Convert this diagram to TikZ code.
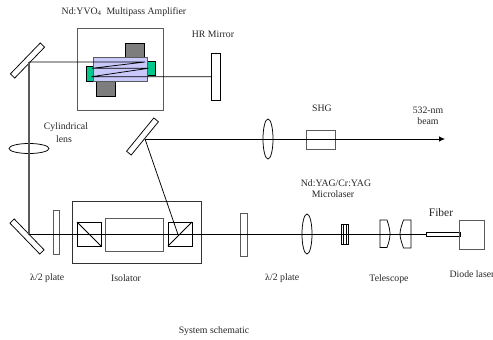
\documentclass[tikz,border=0pt]{standalone}
\usepackage{fontspec}
\setmainfont{Liberation Serif}
\definecolor{lilac}{RGB}{200,200,250}
\definecolor{tealg}{RGB}{0,200,140}
\definecolor{blockgray}{RGB}{125,125,125}
\definecolor{framegray}{RGB}{90,90,90}
\newcommand{\bx}[6]{\node[#1,minimum width=#5pt-#3pt,minimum height=#6pt-#4pt] (#2) at ({(#3+#5)/2},{(#4+#6)/2}) {};}
\newcommand{\lam}{{\fontspec{DejaVu Serif}\fontsize{8.4}{10}\selectfont λ}}
\tikzset{
  part/.style={draw=black,line width=0.75pt,inner sep=0pt,outer sep=0pt,rectangle},
  framed/.style={part,draw=framegray,line width=1pt},
  mirror/.style={part,minimum width=43pt,minimum height=6pt},
  lensv/.style={draw=black,line width=0.75pt,inner sep=0pt,outer sep=0pt,ellipse,minimum width=10pt,minimum height=40pt},
  beam/.style={draw=black,line width=0.75pt},
  graybeam/.style={draw=framegray,line width=1.2pt},
  lbl/.style={font=\fontsize{9.8}{11}\selectfont,text=black!85,inner sep=0pt},
}
\usetikzlibrary{shapes.geometric,arrows.meta}
\begin{document}
\begin{tikzpicture}[x=1pt,y=-1pt]
\useasboundingbox (0,0) rectangle (493,340);
% amplifier
\bx{framed}{ampbox}{77}{28}{163}{110}
\bx{part,fill=blockgray}{blocktop}{125}{43}{144}{57}
\bx{part,fill=blockgray}{blockbot}{96}{81}{115}{96}
\bx{part,fill=tealg}{greenl}{86}{66}{93}{81}
\bx{part,fill=tealg}{greenr}{147}{61}{155}{75}
\bx{part,draw=framegray,fill=lilac}{crystal}{93}{57}{147}{81}
% mirrors
\bx{part}{hr}{211}{53}{220}{100}
\node[mirror,rotate=46] (m1) at (27.5,60.5) {};
\node[mirror,rotate=50.7] (m2) at (142.5,136.5) {};
\node[mirror,rotate=-46] (m3) at (27,236.5) {};
% isolator
\bx{framed,draw=black!80}{iso}{72}{201}{201}{263}
\bx{part}{cubel}{77}{222}{101}{246}
\bx{framed}{faraday}{105.5}{218}{163}{251}
\bx{part}{cuber}{168}{222}{192}{246}
\draw[beam] (cubel.north west) -- (cubel.south east);
\draw[beam] (cuber.south west) -- (cuber.north east);
% plates
\bx{framed,line width=0.75pt}{plate1}{53}{210.5}{59.5}{254}
\bx{framed,line width=0.75pt}{plate2}{240.5}{213}{247}{256}
% lenses
\node[lensv,minimum width=40pt,minimum height=10pt] (cyl) at (29,148.5) {};
\node[lensv] (lens1) at (268,139) {};
\node[lensv] (lens2) at (307,234) {};
% SHG
\bx{framed,line width=0.9pt}{shg}{306.5}{130}{335.5}{149}
% microlaser
\bx{part}{micro}{341.5}{224.5}{348.5}{244}
\draw[beam] (343.5,224.5) -- (343.5,244);
\draw[beam] (346.5,224.5) -- (346.5,244);
% telescope
\draw[line width=0.75pt] (380,220) -- (387,220) .. controls (389,226) and (390,230) .. (390,234) .. controls (390,238) and (389,242) .. (387,247.5) -- (380,247.5) -- cycle;
\draw[line width=0.75pt] (411,220) -- (403.5,220) .. controls (401.5,226) and (400,230) .. (400,234) .. controls (400,238) and (401.5,242) .. (403.5,248) -- (411,248) -- cycle;
% fiber & diode
\bx{part,line width=0.9pt}{fiber}{426.5}{232}{460}{236.5}
\bx{framed,line width=0.9pt}{diode}{459.7}{220}{484}{249}
% beams
\coordinate (a) at (29,62);
\coordinate (b) at (145,62);
\coordinate (c) at (92,68.3);
\coordinate (f) at (148.3,68.3);
\coordinate (g) at (91.5,76.7);
\coordinate (h) at (hr.west |- g);
\coordinate (i) at (29,234.5);
\coordinate (j) at (145,139);
\coordinate (k) at (445,139);
\coordinate (l) at (178,234.5);
\draw[graybeam] (a) -- (i);
\draw[beam] (a) -- (b) -- (c) -- (f) -- (g) -- (h);
\draw[beam] (j) -- (l);
\draw[beam,-{Latex[length=6pt,width=5.5pt]}] (j) -- (k);
\draw[beam] (i) -- (fiber.west |- i);
% labels
\node[lbl] (t1) at (124,12) {Nd:YVO\textsubscript{4}\ \ Multipass Amplifier};
\node[lbl] (t2) at (213,34) {HR Mirror};
\node[lbl] (t3) at (66,127) {Cylindrical};
\node[lbl] (t4) at (64,139) {lens};
\node[lbl] (t5) at (47,278) {\lam/2 plate};
\node[lbl] (t6) at (126,278) {Isolator};
\node[lbl] (t7) at (214,331.5) {System schematic};
\node[lbl] (t8) at (282,278) {\lam/2 plate};
\node[lbl] (t9) at (389,279) {Telescope};
\node[lbl] (t10) at (472,274) {Diode laser};
\node[lbl,font=\fontsize{11.5}{13}\selectfont] (t11) at (441,212.5) {Fiber};
\node[lbl] (t12) at (336,183) {Nd:YAG/Cr:YAG};
\node[lbl] (t13) at (333,194) {Microlaser};
\node[lbl] (t14) at (322,108) {SHG};
\node[lbl] (t15) at (428,110) {532-nm};
\node[lbl] (t16) at (428,121) {beam};
\end{tikzpicture}
\end{document}
